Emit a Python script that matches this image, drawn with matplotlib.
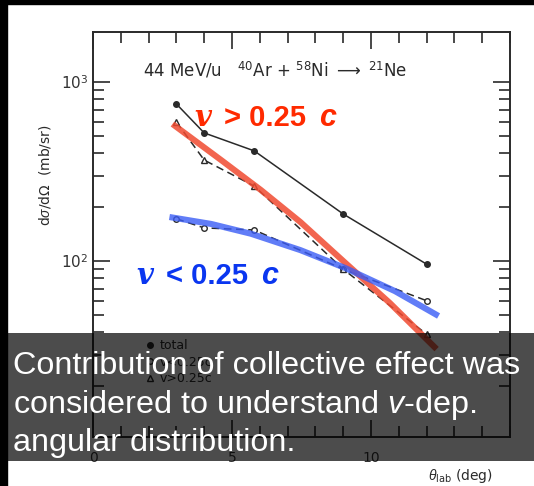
import numpy as np
import matplotlib
matplotlib.use('Agg')
import matplotlib.pyplot as plt
from matplotlib.patches import Rectangle
from matplotlib.lines import Line2D
from matplotlib.ticker import LogLocator, FixedLocator, NullFormatter

plt.rcParams['font.family'] = ['DejaVu Sans']
plt.rcParams['mathtext.fontset'] = 'custom'
plt.rcParams['mathtext.rm'] = 'DejaVu Sans'
plt.rcParams['mathtext.it'] = 'Liberation Sans:italic'
plt.rcParams['mathtext.bf'] = 'DejaVu Sans:bold'

# --- 掃描圖上的實驗點 (角度 deg, 截面 mb/sr) ---
angle = [3.0, 4.0, 5.8, 9.0, 12.0]
sigma_total = [753, 519, 412, 183, 96]
sigma_slow = [172, 153, 149, 90, 60]     # v < 0.25c
sigma_fast = [598, 366, 262, 90, 39]     # v > 0.25c

# --- 手繪的趨勢線 ---
fast_fit_x = [2.86, 4.61, 6.04, 7.46, 9.0, 10.68, 12.36]
fast_fit_y = [582, 366, 249, 165, 100, 58.2, 32.2]
slow_fit_x = [2.75, 4.25, 5.68, 7.46, 9.07, 10.86, 12.43]
slow_fit_y = [176, 161, 142, 115, 91.4, 67.9, 49.3]

ink = '#2a2a2a'

fig = plt.figure(figsize=(5.34, 4.86), dpi=100, facecolor='white')
ax = fig.add_axes([93/534, 1-437/486, (510-93)/534, (437-32)/486])

ax.plot(angle, sigma_total, '-', color=ink, lw=1.1, marker='o', ms=4, mfc=ink, mec=ink)
ax.plot(angle, sigma_slow, '--', color=ink, lw=1.1, dashes=(5, 3), marker='o', ms=4, mfc='white', mec=ink)
ax.plot(angle, sigma_fast, '--', color=ink, lw=1.1, dashes=(5, 3), marker='^', ms=4, mfc='white', mec=ink)

ax.plot(fast_fit_x, fast_fit_y, color='#f04a30', lw=4.4, alpha=0.85, solid_capstyle='butt')
ax.plot(slow_fit_x, slow_fit_y, color='#3a5cf5', lw=4.4, alpha=0.8, solid_capstyle='butt')

ax.set_yscale('log')
ax.set_xlim(0, 15)
ax.set_ylim(10.4, 1900)

ax.xaxis.set_major_locator(FixedLocator([0, 5, 10]))
ax.xaxis.set_minor_locator(FixedLocator(range(0, 16)))
ax.set_xticklabels(['0', '5', '10'])
ax.yaxis.set_major_locator(FixedLocator([100, 1000]))
ax.yaxis.set_minor_locator(LogLocator(base=10, subs=range(2, 10)))
ax.yaxis.set_minor_formatter(NullFormatter())
ax.set_yticklabels([r'$10^2$', r'$10^3$'])

ax.tick_params(which='both', direction='in', top=True, right=True, color=ink, width=1.2)
ax.tick_params(which='major', length=12, labelsize=11, labelcolor='#333333')
ax.tick_params(which='minor', length=8)
ax.tick_params(axis='x', which='major', pad=10, labelsize=10)
for s in ax.spines.values():
    s.set_color(ink)
    s.set_linewidth(1.4)

ax.text(0.12, 0.905, r'44 MeV/u   $^{40}$Ar + $^{58}$Ni $\longrightarrow$ $^{21}$Ne',
        transform=ax.transAxes, fontsize=12, color=ink, va='center')

handles = [Line2D([], [], ls='none', marker='o', ms=4, color=ink),
           Line2D([], [], ls='none', marker='o', ms=4, mfc='white', mec=ink),
           Line2D([], [], ls='none', marker='^', ms=4, mfc='white', mec=ink)]
ax.legend(handles, ['total', 'v<0.25c', 'v>0.25c'], loc='upper left',
          bbox_to_anchor=(0.1, 0.27), frameon=False, fontsize=9,
          handlelength=0.6, handletextpad=0.5, labelspacing=0.3, labelcolor=ink)

fig.text(45/534, 1-175/486, r'd$\sigma$/d$\Omega$  (mb/sr)', rotation=90,
         fontsize=10, color=ink, ha='center', va='center')
fig.text(460/534, 1-476/486, r'$\theta_{\mathrm{lab}}$ (deg)', fontsize=10,
         color=ink, ha='center', va='center')

# --- 紅/藍標註 ---
def label(x, y, sign, color):
    fig.text(x/534, 1-y/486, 'v', fontsize=21, color=color, family='DejaVu Serif',
             style='italic', weight='bold', va='baseline')
    fig.text((x+30)/534, 1-y/486, sign + ' 0.25', fontsize=21, color=color,
             family='Liberation Sans', weight='bold', va='baseline')
    fig.text((x+125)/534, 1-y/486, 'c', fontsize=22, color=color,
             family='Liberation Sans', weight='bold', style='italic', va='baseline')

label(194, 126, '>', '#ff2a00')
label(136, 284, '<', '#0a36f0')

# --- 黑邊 ---
fig.add_artist(Rectangle((0, 1-4/486), 1, 4/486, transform=fig.transFigure,
                         color='black', zorder=20))
fig.add_artist(Rectangle((0, 0), 7/534, 1, transform=fig.transFigure,
                         color='black', zorder=20))

# --- 說明文字框 ---
fig.add_artist(Rectangle((7/534, 25/486), 1, (461-333)/486, transform=fig.transFigure,
                         facecolor='black', alpha=0.7, lw=0, zorder=10))
caption = ['Contribution of collective effect was',
           r'considered to understand $\mathit{v}$-dep.',
           'angular distribution.']
for i, line in enumerate(caption):
    fig.text(13/534, 1-(374+38.5*i)/486, line, fontsize=23.3, color='white',
             family='Liberation Sans', va='baseline', zorder=11)

fig.savefig('out.png', dpi=100, facecolor=fig.get_facecolor())
